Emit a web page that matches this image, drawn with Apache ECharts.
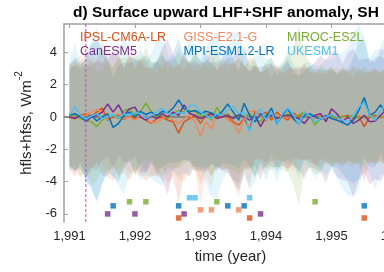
<!DOCTYPE html>
<html>
<head>
<meta charset="utf-8">
<script src="https://cdn.jsdelivr.net/npm/echarts@6/dist/echarts.min.js"></script>
<style>
    html, body { margin: 0; padding: 0; background: #fff; }
    #chart { width: 384px; height: 272px; }
</style>
</head>
<body>
<div id="chart"></div>
<script>
// monthly anomalies, first month = Jan 1991
var startYear = 1991;
var modelNames = ['IPSL-CM6A-LR', 'GISS-E2.1-G', 'MIROC-ES2L', 'CanESM5', 'MPI-ESM1.2-LR', 'UKESM1'];
var modelColors = ['#D95319', '#F0875A', '#77AC30', '#7E2F8E', '#0072BD', '#4DBEEE'];

// ensemble mean anomaly, W m-2
var ipslMean = [0.0, -0.1, 0.1, 0.2, 0.05, 0.3, 0.55, -0.2, 0.0, 0.1, -0.15, 0.05, -0.1, 0.0, -0.2, -0.4, -0.1, 0.0, -0.2, -0.3,
    -1.0, -0.3, -0.1, 0.1, -0.4, 0.1, 0.25, -0.1, 0.2, 0.0, -0.3, -0.5, -0.1, -0.75, 0.35, 0.1, 0.3, -0.2, 0.3, 0.0,
    -0.2, 0.25, 0.0, 0.3, 0.1, -0.1, 0.05, -0.05, 0.1, -0.1, 0.0, 0.1, -0.15, 0.05, -0.6, 0.0, 0.1, -0.05, 0.05, 0.0];
var gissMean = [-0.1, 0.1, 0.0, 0.15, 0.3, 0.45, 0.3, -0.15, 0.1, 0.2, -0.1, 0.0, -0.2, 0.1, -0.1, -0.35, -0.35, -0.1, 0.1, -0.2,
    -0.4, -0.1, 0.1, -0.3, -1.2, -0.3, -0.75, 0.2, 0.1, -0.2, -0.4, -1.0, -0.1, 0.3, 0.4, 0.0, -0.3, 0.2, 0.1, -0.1,
    0.1, -0.2, 0.15, 0.3, 0.1, -0.1, 0.0, 0.1, -0.05, 0.1, 0.0, -0.1, 0.05, 0.1, -0.1, 0.05, 0.0, 0.1, -0.1, 0.0];
var mirocMean = [0.05, 0.1, -0.1, -0.2, -0.3, -0.6, -0.2, 0.0, 0.1, -0.1, 0.4, 0.5, 0.1, 0.3, 0.85, 0.3, 0.0, 0.2, -0.1, 0.2,
    0.4, 0.3, 0.4, 0.35, 0.0, 0.2, -0.2, 0.6, 0.0, 0.2, -0.1, 0.1, 0.0, 0.2, -0.1, -0.3, 0.1, 0.2, -0.1, 0.0,
    0.2, 0.0, 0.1, 0.3, 0.1, -0.5, -0.1, 0.05, 0.0, -0.05, 0.05, 0.0, 0.1, -0.05, 0.0, 0.05, -0.05, 0.0, 0.05, 0.0];
var canMean = [0.0, -0.1, 0.1, -0.3, 0.0, 0.1, 0.3, 0.8, 0.3, 0.75, 0.1, 0.5, 0.6, 0.0, -0.2, 0.1, -0.1, 0.2, 0.0, 0.3,
    0.1, 0.75, 0.2, 0.1, -0.1, 0.05, 0.2, -0.1, 0.0, 0.1, -0.1, 0.15, 0.0, -0.2, 0.1, -0.6, 0.0, 0.1, -0.1, 0.05,
    0.1, 0.0, -0.1, -0.4, 0.0, 0.1, 0.2, -0.3, 0.5, 0.2, -0.3, 0.0, -0.4, -0.2, 0.1, -0.3, -0.25, 0.1, 0.45, 0.2];
var mpiMean = [0.1, 0.2, 0.0, -0.2, 0.1, -0.25, 0.0, 0.2, -0.65, -0.4, 0.1, 0.3, 0.0, 0.35, 0.15, 0.3, 0.1, 0.35, 0.25, 0.55,
    1.05, 0.5, 0.3, 0.4, 0.2, 0.35, 0.25, 0.05, 0.35, 0.8, 0.3, -0.2, 0.85, 0.1, -0.3, 0.2, 0.0, 0.55, -0.45, 0.1,
    0.5, -0.1, -0.45, 0.1, 0.2, 0.0, -0.15, 0.1, -0.1, -0.2, -0.35, -0.5, -0.2, 0.4, 1.2, 0.1, 0.3, 0.75, 0.2, -0.1];
var ukMean = [0.1, 0.65, 0.1, -0.15, 0.05, 0.2, -0.1, 0.0, 0.15, -0.05, 0.2, 0.1, 0.3, 0.2, -0.1, 0.1, 0.3, 0.55, 0.2, 0.1,
    0.3, 0.2, 0.7, 0.7, 0.3, 0.1, -0.1, 0.2, 0.1, 0.45, 0.65, 0.2, 0.3, -0.9, 0.1, 0.5, -0.2, 0.3, -0.5, 0.2,
    0.55, 0.2, -0.5, 0.3, 0.1, -0.3, -0.1, 0.0, 0.15, 0.0, -0.2, -0.3, 0.1, 0.6, 0.9, 0.1, -0.2, 0.4, 0.7, 0.3];

// ensemble spread (half width of shading), W m-2
var ipslSpread = [3.2, 3.6, 3.0, 3.9, 3.4, 3.1, 4.2, 3.5, 3.0, 3.7, 3.3, 4.0, 3.1, 3.5, 3.8, 3.2, 3.6, 3.0, 3.9, 3.4,
    4.3, 3.2, 3.6, 3.1, 3.8, 3.3, 3.9, 3.0, 3.5, 3.2, 3.7, 4.1, 3.3, 3.6, 2.9, 2.7, 3.1, 2.6, 2.9, 2.7,
    3.2, 2.8, 2.6, 3.0, 2.7, 2.9, 2.6, 2.8, 3.0, 2.7, 3.1, 2.8, 2.6, 3.0, 3.4, 2.8, 2.9, 2.7, 3.0, 2.8];
var gissSpread = [3.0, 3.4, 3.8, 3.1, 3.5, 3.2, 3.0, 3.6, 4.1, 3.3, 3.0, 3.5, 3.2, 3.8, 3.1, 3.4, 3.0, 3.7, 3.3, 3.1,
    3.5, 3.9, 3.2, 3.0, 4.2, 3.4, 3.6, 3.1, 3.3, 3.0, 3.8, 4.0, 3.2, 3.5, 3.0, 2.8, 3.3, 2.9, 3.1, 2.7,
    2.9, 3.2, 2.8, 3.0, 2.7, 3.1, 2.9, 2.6, 2.8, 3.0, 2.7, 2.9, 3.1, 2.8, 2.6, 2.9, 3.0, 2.7, 2.8, 3.0];
var mirocSpread = [3.3, 3.0, 3.6, 3.2, 3.9, 3.4, 3.1, 3.5, 3.0, 3.7, 3.3, 3.0, 3.8, 3.2, 3.5, 3.1, 3.4, 3.9, 3.0, 3.3,
    3.6, 3.2, 3.0, 3.7, 3.4, 3.1, 3.5, 3.8, 3.0, 3.4, 3.2, 3.6, 3.1, 3.3, 3.7, 3.0, 3.2, 3.5, 3.0, 3.3,
    3.6, 4.2, 5.6, 3.8, 3.2, 3.0, 3.4, 2.9, 3.1, 2.8, 3.0, 2.7, 3.0, 2.8, 3.1, 2.7, 2.9, 2.8, 3.0, 2.7];
var canSpread = [3.0, 3.3, 2.9, 3.5, 3.1, 3.4, 3.0, 3.2, 3.6, 3.1, 2.9, 3.3, 3.0, 3.4, 3.2, 3.0, 3.5, 4.1, 4.8, 3.6,
    3.1, 3.3, 3.0, 3.4, 3.2, 3.5, 3.1, 3.0, 3.3, 3.6, 3.8, 4.3, 3.2, 3.0, 3.1, 3.3, 2.9, 3.2, 3.0, 3.1,
    3.3, 3.0, 3.2, 3.4, 3.1, 3.3, 3.6, 3.8, 3.5, 3.9, 3.6, 4.0, 4.6, 3.7, 3.5, 3.9, 3.6, 4.1, 3.7, 3.8];
var mpiSpread = [3.1, 3.5, 3.2, 3.8, 4.4, 5.0, 4.2, 3.4, 3.1, 3.6, 3.3, 3.0, 3.5, 3.2, 3.7, 3.0, 3.3, 3.5, 3.1, 3.4,
    3.8, 3.2, 3.0, 3.5, 3.3, 3.6, 3.1, 3.4, 3.2, 3.7, 3.3, 3.0, 3.5, 3.1, 3.4, 2.9, 3.2, 2.8, 3.0, 2.9,
    3.1, 2.8, 3.0, 2.7, 3.0, 2.9, 3.1, 2.8, 3.0, 2.9, 3.2, 3.4, 3.9, 4.3, 3.6, 3.2, 3.4, 3.0, 3.3, 3.1];
var ukSpread = [3.4, 3.9, 3.2, 3.6, 4.6, 5.4, 4.0, 3.5, 3.8, 4.2, 5.0, 3.6, 3.3, 4.1, 3.5, 3.9, 4.4, 4.8, 3.7, 3.4,
    4.0, 3.6, 4.3, 3.8, 3.5, 4.2, 4.9, 5.2, 4.0, 3.7, 4.6, 4.8, 3.9, 3.6, 4.1, 3.4, 3.8, 3.3, 3.6, 3.2,
    3.5, 3.1, 3.4, 3.0, 3.3, 3.5, 3.2, 3.6, 3.4, 3.8, 4.2, 4.6, 5.0, 5.1, 4.0, 3.6, 4.3, 3.9, 4.5, 4.1];

// months flagged by square markers (decimal year), and marker row per model
var ipslMarks = [1992.667, 1993.75, 1995.5];
var gissMarks = [1993.0, 1993.167, 1993.583];
var mirocMarks = [1991.917, 1992.167, 1993.25, 1994.75];
var canMarks = [1991.583, 1992.0, 1992.75, 1993.917];
var mpiMarks = [1991.667, 1992.667, 1993.417, 1993.667, 1995.5];
var ukMarks = [1992.833, 1992.917, 1993.75];
var markRows = [-6.25, -5.75, -5.25, -6.0, -5.5, -5.0];

var eruptionYear = 1991.25;
var xRange = [1990.917, 1996];
var yRange = [-6.5, 5.75];
var xTicks = [1991, 1992, 1993, 1994, 1995, 1996];
var yTicks = [-6, -4, -2, 0, 2, 4];

var meanValues = [ipslMean, gissMean, mirocMean, canMean, mpiMean, ukMean];
var spreadValues = [ipslSpread, gissSpread, mirocSpread, canSpread, mpiSpread, ukSpread];
var markYears = [ipslMarks, gissMarks, mirocMarks, canMarks, mpiMarks, ukMarks];

var times = ipslMean.map(function (v, i) { return startYear + i / 12; });

function rgba(hex, a) {
    var n = parseInt(hex.slice(1), 16);
    return 'rgba(' + (n >> 16) + ',' + ((n >> 8) & 255) + ',' + (n & 255) + ',' + a + ')';
}

var font = '"Liberation Sans", Arial, sans-serif';
var axisGray = '#a0a0a0';
var textColor = '#262626';

var chart = echarts.init(document.getElementById('chart'));

var series = [];
// shaded spread, one polygon per model (stacking: CanESM5, IPSL, MPI, GISS, UKESM1, MIROC)
[3, 0, 4, 1, 5, 2].forEach(function (m) {
    var mean = meanValues[m], spread = spreadValues[m];
    series.push({
        type: 'custom',
        name: modelNames[m] + ' spread',
        silent: true,
        z: 1,
        data: times.map(function (t, i) { return [t, mean[i] - spread[i], mean[i] + spread[i]]; }),
        encode: { x: 0, y: [1, 2] },
        renderItem: function (params, api) {
            if (params.dataIndex !== 0) return;
            var pts = [];
            for (var i = 0; i < times.length; i++) pts.push(api.coord([times[i], mean[i] + spread[i]]));
            for (var j = times.length - 1; j >= 0; j--) pts.push(api.coord([times[j], mean[j] - spread[j]]));
            return {
                type: 'polygon',
                shape: { points: pts },
                style: { fill: rgba(modelColors[m], 0.15) }
            };
        }
    });
});
// zero line
series.push({
    type: 'line',
    silent: true,
    z: 2,
    showSymbol: false,
    lineStyle: { color: '#707070', width: 1 },
    data: [[xRange[0], 0], [xRange[1], 0]]
});
// mean lines
modelNames.forEach(function (name, m) {
    series.push({
        type: 'line',
        name: name,
        z: 3,
        showSymbol: false,
        silent: true,
        lineStyle: { width: 1.5, color: modelColors[m] },
        data: times.map(function (t, i) { return [t, meanValues[m][i]]; })
    });
});
// flagged months
modelNames.forEach(function (name, m) {
    series.push({
        type: 'scatter',
        name: name + ' flag',
        z: 4,
        symbol: 'rect',
        symbolSize: 5.5,
        itemStyle: { color: modelColors[m] },
        data: markYears[m].map(function (t) { return [t, markRows[m]]; })
    });
});
// eruption line
series.push({
    type: 'line',
    silent: true,
    z: 5,
    showSymbol: false,
    lineStyle: { color: '#d23cd2', width: 1, type: [3, 2] },
    data: [[eruptionYear, yRange[0]], [eruptionYear, yRange[1]]]
});

var option = {
    animation: false,
    title: {
        text: 'd) Surface upward LHF+SHF anomaly, SH',
        left: 73,
        top: 5,
        padding: 0,
        textStyle: { fontSize: 15.5, fontWeight: 'bold', color: '#000', fontFamily: font }
    },
    grid: { left: 64, top: 24, width: 333, height: 198, outerBoundsMode: 'none', containLabel: false },
    xAxis: [{
        type: 'value',
        min: xRange[0],
        max: xRange[1],
        name: 'time (year)',
        nameLocation: 'middle',
        nameGap: 27,
        nameTextStyle: { fontSize: 15, color: textColor, fontFamily: font },
        axisLine: { show: true, lineStyle: { color: axisGray, width: 1.5 } },
        axisTick: { show: true, inside: true, length: 4, customValues: xTicks, lineStyle: { color: axisGray } },
        axisLabel: { customValues: xTicks, margin: 8, fontSize: 13, color: textColor, fontFamily: font },
        splitLine: { show: false }
    }, {
        type: 'value',
        position: 'top',
        min: xRange[0],
        max: xRange[1],
        axisLine: { show: true, lineStyle: { color: axisGray, width: 1.5 } },
        axisTick: { show: true, inside: true, length: 4, customValues: xTicks, lineStyle: { color: axisGray } },
        axisLabel: { show: false },
        splitLine: { show: false }
    }],
    yAxis: [{
        type: 'value',
        min: yRange[0],
        max: yRange[1],
        name: '{n|hfls+hfss, Wm}{s|-2}',
        nameLocation: 'middle',
        nameGap: 25,
        nameTextStyle: {
            color: textColor,
            fontFamily: font,
            rich: {
                n: { fontSize: 15, color: textColor, fontFamily: font, lineHeight: 20, verticalAlign: 'bottom' },
                s: { fontSize: 10, color: textColor, fontFamily: font, lineHeight: 20, verticalAlign: 'top' }
            }
        },
        axisLine: { show: true, lineStyle: { color: axisGray, width: 1.5 } },
        axisTick: { show: true, inside: true, length: 4, customValues: yTicks, lineStyle: { color: axisGray } },
        axisLabel: { customValues: yTicks, margin: 7, fontSize: 13, color: textColor, fontFamily: font },
        splitLine: { show: false }
    }],
    graphic: modelNames.map(function (name, m) {
        return {
            type: 'text',
            z: 100,
            x: [80, 183.5, 287][m % 3],
            y: m < 3 ? 38 : 52,
            style: {
                text: name,
                fill: modelColors[m],
                font: '12.5px ' + font,
                verticalAlign: 'middle'
            }
        };
    }),
    series: series
};

chart.setOption(option);
</script>
</body>
</html>
